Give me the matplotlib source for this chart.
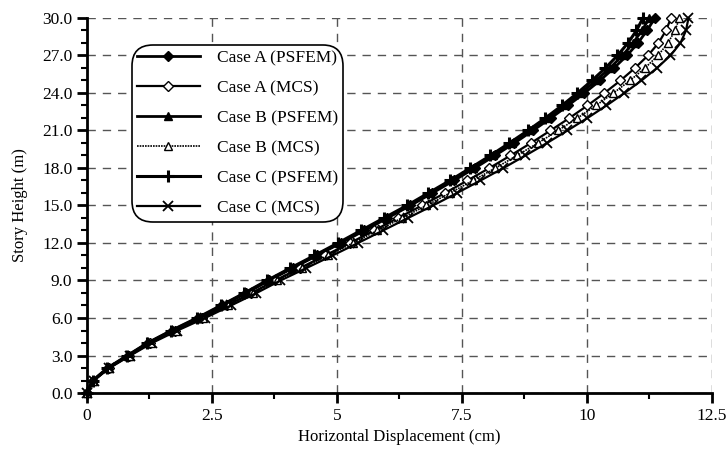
import matplotlib
matplotlib.use("Agg")
import matplotlib.pyplot as plt
from matplotlib.ticker import MultipleLocator, FormatStrFormatter

height = list(range(0, 31))

case_a_psfem = [0, 0.12, 0.42, 0.82, 1.23, 1.71, 2.23, 2.71, 3.19, 3.64, 4.12, 4.60, 5.08, 5.55, 6.01, 6.47,
                6.91, 7.34, 7.76, 8.16, 8.55, 8.92, 9.28, 9.62, 9.95, 10.26, 10.54, 10.80, 11.02, 11.20, 11.36]
case_a_mcs = [0, 0.13, 0.44, 0.85, 1.27, 1.76, 2.30, 2.80, 3.29, 3.76, 4.26, 4.76, 5.26, 5.74, 6.22, 6.70,
              7.16, 7.61, 8.05, 8.47, 8.88, 9.27, 9.65, 10.01, 10.35, 10.67, 10.96, 11.22, 11.43, 11.58, 11.68]
case_b_psfem = [0, 0.12, 0.42, 0.82, 1.22, 1.70, 2.22, 2.70, 3.17, 3.62, 4.10, 4.58, 5.05, 5.52, 5.98, 6.44,
                6.87, 7.30, 7.72, 8.12, 8.50, 8.87, 9.22, 9.56, 9.88, 10.18, 10.46, 10.71, 10.92, 11.10, 11.25]
case_b_mcs = [0, 0.13, 0.44, 0.86, 1.28, 1.78, 2.32, 2.83, 3.33, 3.80, 4.31, 4.82, 5.32, 5.81, 6.30, 6.79,
              7.26, 7.72, 8.17, 8.60, 9.02, 9.42, 9.81, 10.18, 10.53, 10.86, 11.16, 11.42, 11.62, 11.76, 11.85]
case_c_psfem = [0, 0.12, 0.41, 0.81, 1.21, 1.69, 2.20, 2.68, 3.15, 3.60, 4.07, 4.55, 5.02, 5.48, 5.94, 6.40,
                6.83, 7.26, 7.67, 8.07, 8.45, 8.82, 9.17, 9.50, 9.81, 10.10, 10.37, 10.61, 10.82, 10.99, 11.12]
case_c_mcs = [0, 0.14, 0.45, 0.87, 1.30, 1.81, 2.36, 2.88, 3.39, 3.87, 4.39, 4.91, 5.42, 5.92, 6.42, 6.92,
              7.40, 7.87, 8.33, 8.77, 9.20, 9.61, 10.01, 10.39, 10.75, 11.09, 11.40, 11.67, 11.87, 11.98, 12.03]

labels = ["Case A (PSFEM)", "Case A (MCS)", "Case B (PSFEM)", "Case B (MCS)", "Case C (PSFEM)", "Case C (MCS)"]

plt.rcParams['font.family'] = ['Liberation Serif', 'DejaVu Serif']

fig = plt.figure(figsize=(7.26, 4.51), dpi=100)
ax = fig.add_axes([0.1198, 0.1286, 0.8609, 0.8315])

styles = [
    dict(marker='D', mfc='black', ms=5, lw=2.0, ls='-'),
    dict(marker='D', mfc='white', ms=5, lw=1.6, ls='-'),
    dict(marker='^', mfc='black', ms=6, lw=2.0, ls='-'),
    dict(marker='^', mfc='white', ms=6, lw=1.2, ls=(0, (1, 0.6))),
    dict(marker='+', mfc='black', ms=9, mew=2.2, lw=2.2, ls='-'),
    dict(marker='x', mfc='black', ms=7, mew=1.3, lw=1.6, ls='-'),
]
series = [case_a_psfem, case_a_mcs, case_b_psfem, case_b_mcs, case_c_psfem, case_c_mcs]
for xs, lab, st in zip(series, labels, styles):
    ax.plot(xs, height, color='black', mec='black', label=lab, clip_on=False, zorder=3, **st)

ax.set_xlim(0, 12.5)
ax.set_ylim(0, 30)
ax.xaxis.set_major_locator(MultipleLocator(2.5))
ax.xaxis.set_minor_locator(MultipleLocator(1.25))
ax.yaxis.set_major_locator(MultipleLocator(3))
ax.yaxis.set_minor_locator(MultipleLocator(1))
ax.yaxis.set_major_formatter(FormatStrFormatter('%.1f'))
ax.xaxis.set_major_formatter(plt.FuncFormatter(lambda v, p: f"{v:g}"))

ax.grid(True, which='major', color='#555555', ls=(0, (6, 5)), lw=1.0)
ax.set_axisbelow(True)
for s in ['top', 'right']:
    ax.spines[s].set_visible(False)
for s in ['left', 'bottom']:
    ax.spines[s].set_linewidth(2.0)

ax.tick_params(which='major', direction='out', length=7, width=2.0, labelsize=12.5)
ax.tick_params(which='minor', direction='out', length=4, width=1.5)

ax.set_xlabel("Horizontal Displacement (cm)", fontsize=12, labelpad=4)
ax.set_ylabel("Story Height (m)", fontsize=12, labelpad=10)

leg = ax.legend(loc='upper left', bbox_to_anchor=(0.072, 0.928), borderaxespad=0,
                fontsize=12.5, handlelength=3.6, labelspacing=0.8, frameon=True,
                fancybox=True, framealpha=1, edgecolor='black', borderpad=0.3, handletextpad=1.0)
leg.get_frame().set_linewidth(1.2)
leg.get_frame().set_boxstyle('round', pad=0.0, rounding_size=1.2)

fig.savefig("out.png", dpi=100)
